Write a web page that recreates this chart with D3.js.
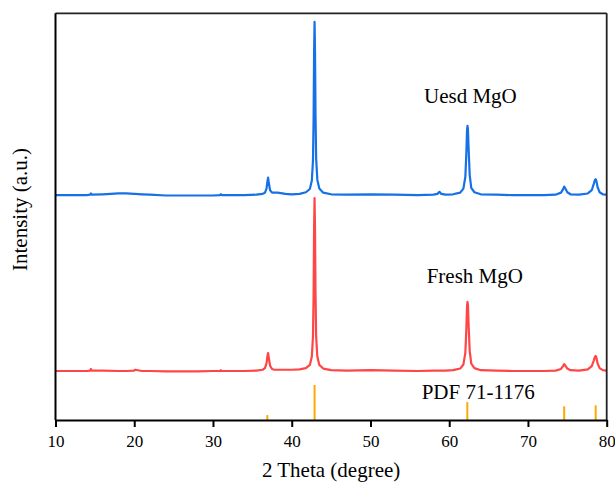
<!DOCTYPE html>
<html>
<head>
<meta charset="utf-8">
<script src="https://cdn.jsdelivr.net/npm/d3@7"></script>
<style>
  body { margin: 0; background: #fff; }
  svg { display: block; }
  svg text { font-family: "Liberation Serif", "Times New Roman", serif; }
</style>
</head>
<body>
<svg id="chart" width="615" height="484"></svg>
<script>
const serif = "\"Liberation Serif\", \"Times New Roman\", serif";

// 2θ sampling points shared by both patterns
const twoTheta = [
  10, 12, 14, 14.4, 14.5, 14.6, 16, 18, 19, 20,
  20.1, 21, 22, 24, 26, 28, 30, 30.9, 31, 31.1,
  32, 34, 35.5, 36.3, 36.6, 36.8, 36.9, 37.0, 37.1, 37.25,
  37.5, 37.8, 38.2, 38.6, 39.2, 40, 41, 41.8, 42.3, 42.55,
  42.7, 42.78, 42.84, 42.9, 42.96, 43.02, 43.1, 43.25, 43.5, 44,
  45, 47, 50, 53, 56, 58, 58.5, 58.75, 59, 59.5,
  60.5, 61.4, 61.8, 62.05, 62.18, 62.26, 62.32, 62.38, 62.46, 62.6,
  62.8, 63.2, 64, 66, 68, 70, 72, 73.5, 74.2, 74.45,
  74.6, 74.75, 75.0, 75.4, 76.5, 77.6, 78.1, 78.35, 78.5, 78.6,
  78.7, 78.85, 79.1, 79.5, 80
];

// intensities (a.u.), above each pattern's own baseline
const usedMgO = [
  0, 0, 0, 1, 4, 1, 2, 4, 4, 3,
  3, 2, 1, -1, -1, -1, -1, 0, 2, 0,
  0, 0, 1, 3, 6, 16, 32, 43, 29, 12,
  6, 6, 6, 5, 3, 2, 3, 7, 15, 35,
  85, 190, 350, 426, 350, 200, 90, 38, 16, 6,
  2, 1, 2, 1, 0, 1, 3, 8, 3, 1,
  2, 6, 16, 45, 105, 158, 170, 162, 115, 50,
  18, 7, 2, 1, 0, 0, 0, 1, 6, 14,
  21, 16, 7, 2, 1, 4, 12, 27, 37, 39,
  34, 19, 7, 2, 1
];

const freshMgO = [
  0, 0, 0, 1, 5, 1, 1, 0, 0, 1,
  3, 0, 0, -1, -1, -1, 0, 0, 2, 0,
  0, 0, 1, 3, 7, 19, 35, 44, 31, 13,
  5, 3, 3, 3, 3, 3, 4, 7, 15, 35,
  85, 190, 350, 425, 345, 195, 85, 36, 15, 6,
  2, 1, 2, 1, 0, 1, 1, 1, 1, 1,
  2, 6, 16, 45, 105, 158, 170, 162, 115, 50,
  18, 7, 2, 1, 0, 0, 0, 1, 5, 12,
  17, 13, 6, 2, 1, 4, 12, 25, 35, 37,
  32, 18, 7, 2, 1
];

// vertical offsets of the stacked patterns (a.u.)
const usedOffset = 553;
const freshOffset = 120.5;

// reference card PDF 71-1176
const pdfPos = [36.9, 42.9, 62.3, 74.6, 78.6];
const pdfRel = [14, 100, 51, 39, 42];
const pdfScale = 0.86; // rel. intensity -> a.u.

const xTicks = [10, 20, 30, 40, 50, 60, 70, 80];

const W = 615, H = 484;
const margin = { top: 13.3, right: 8.3, bottom: 64, left: 55.5 };
const iw = W - margin.left - margin.right;
const ih = H - margin.top - margin.bottom;

const svg = d3.select("#chart");
const g = svg.append("g").attr("transform", `translate(${margin.left},${margin.top})`);

const x = d3.scaleLinear().domain([10, 80]).range([0, iw]);
const y = d3.scaleLinear().domain([0, 1000]).range([ih, 0]);

// patterns
const line = (vals, off) => d3.line()
  .x((d, i) => x(twoTheta[i]))
  .y(d => y(d + off))(vals);

g.append("path")
  .attr("d", line(usedMgO, usedOffset))
  .attr("fill", "none")
  .attr("stroke", "#1670e6")
  .attr("stroke-width", 2.2)
  .attr("stroke-linejoin", "round");

g.append("path")
  .attr("d", line(freshMgO, freshOffset))
  .attr("fill", "none")
  .attr("stroke", "#ff4646")
  .attr("stroke-width", 2.2)
  .attr("stroke-linejoin", "round");

// PDF sticks
g.append("g")
  .selectAll("line")
  .data(pdfPos)
  .join("line")
  .attr("x1", d => x(d))
  .attr("x2", d => x(d))
  .attr("y1", y(0))
  .attr("y2", (d, i) => y(pdfRel[i] * pdfScale))
  .attr("stroke", "#ffa800")
  .attr("stroke-width", 2);

// frame: top and right
g.append("line").attr("x1", 0).attr("x2", iw).attr("y1", 0).attr("y2", 0)
  .attr("stroke", "#222").attr("stroke-width", 1.8);
g.append("line").attr("x1", iw).attr("x2", iw).attr("y1", 0).attr("y2", ih)
  .attr("stroke", "#222").attr("stroke-width", 1.8);
// left axis line (no ticks)
g.append("line").attr("x1", 0).attr("x2", 0).attr("y1", 0).attr("y2", ih)
  .attr("stroke", "#000").attr("stroke-width", 2);

// x axis
const xAxis = g.append("g")
  .attr("transform", `translate(0,${ih})`)
  .call(d3.axisBottom(x).tickValues(xTicks).tickSize(7).tickPadding(7.6).tickSizeOuter(0))
  .attr("font-family", serif)
  .attr("font-size", 17);
xAxis.select(".domain").attr("stroke", "#000").attr("stroke-width", 2);
xAxis.selectAll(".tick line").attr("stroke", "#000").attr("stroke-width", 2);
xAxis.selectAll(".tick text")
  .attr("fill", "#000")
  .style("font-family", serif)
  .style("font-size", "17px");

// axis titles
svg.append("text")
  .attr("x", margin.left + iw / 2)
  .attr("y", 477)
  .attr("text-anchor", "middle")
  .style("font-family", serif)
  .style("font-size", "21px")
  .text("2 Theta (degree)");

svg.append("text")
  .attr("transform", `translate(26.5,${209.5}) rotate(-90)`)
  .attr("text-anchor", "middle")
  .style("font-family", serif)
  .style("font-size", "21px")
  .text("Intensity (a.u.)");

// series labels
const labels = [
  { text: "Uesd MgO", at: 56.8, base: 103.3 },
  { text: "Fresh MgO", at: 57.14, base: 283.3 },
  { text: "PDF 71-1176", at: 56.5, base: 399 }
];
svg.append("g")
  .selectAll("text")
  .data(labels)
  .join("text")
  .attr("x", d => margin.left + x(d.at))
  .attr("y", d => d.base)
  .style("font-family", serif)
  .style("font-size", "21px")
  .text(d => d.text);
</script>
</body>
</html>
